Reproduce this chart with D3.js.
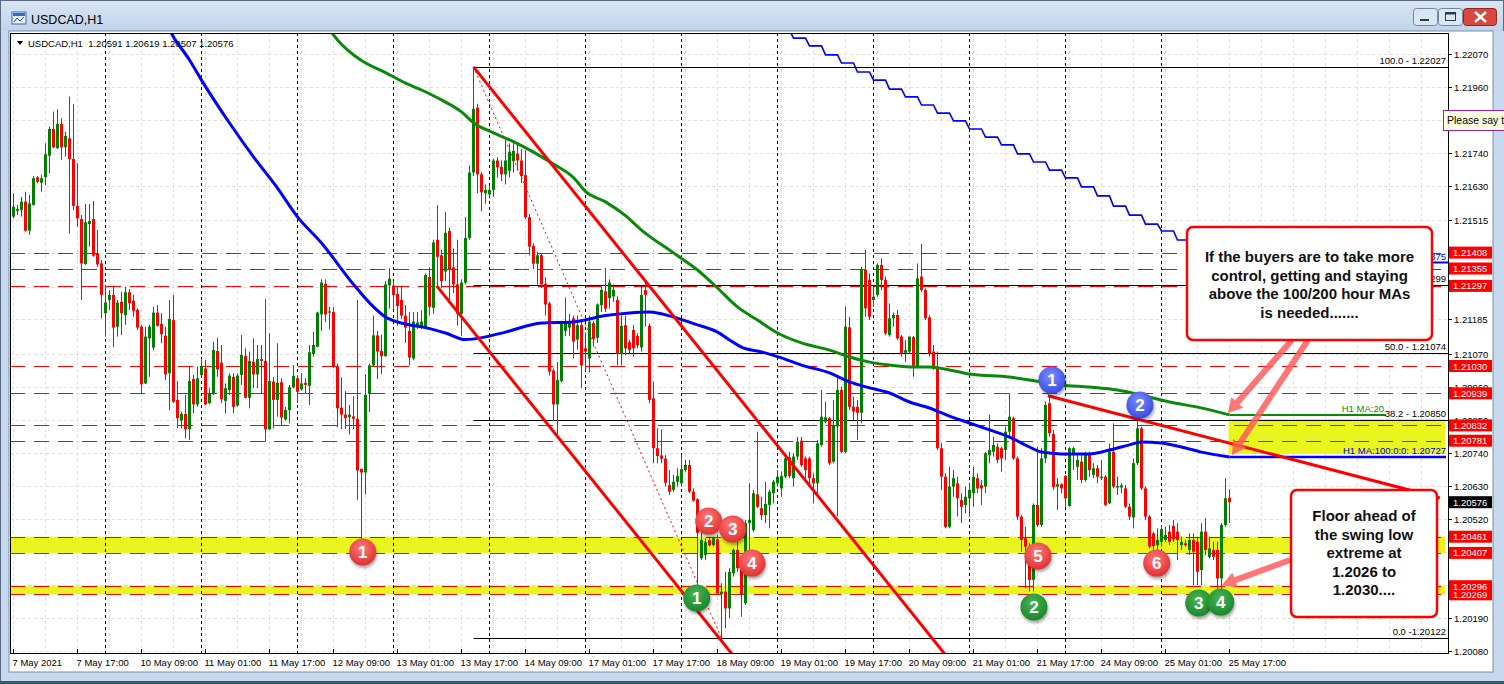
<!DOCTYPE html>
<html><head><meta charset="utf-8">
<script src="https://cdn.jsdelivr.net/npm/d3@7"></script>
<style>body{margin:0;background:#fff;overflow:hidden}svg{display:block}text{font-family:"Liberation Sans",Arial,sans-serif}</style>
</head><body><svg id="c" width="1504" height="684"></svg>
<script>
// ---------------- DATA ----------------
const symbol = "USDCAD,H1";
const O = [1.21550,1.21528,1.21547,1.21550,1.21578,1.21481,1.21567,1.21659,1.21641,1.21659,1.21731,1.21820,1.21756,1.21837,1.21759,1.21789,1.21720,1.21564,1.21520,1.21370,1.21503,1.21520,1.21406,1.21372,1.21206,1.21250,1.21267,1.21161,1.21244,1.21200,1.21276,1.21248,1.21217,1.21161,1.20972,1.21122,1.21091,1.21208,1.21170,1.21131,1.21006,1.21183,1.20917,1.20848,1.20870,1.20819,1.20987,1.20902,1.21000,1.21022,1.20906,1.20937,1.21080,1.21041,1.20914,1.20950,1.20994,1.20898,1.21000,1.21063,1.20924,1.21044,1.21002,1.21053,1.21047,1.20819,1.20978,1.20917,1.20976,1.20852,1.20883,1.20959,1.20989,1.20952,1.20974,1.20964,1.21070,1.21094,1.21202,1.21304,1.21208,1.21210,1.21029,1.20891,1.20868,1.20859,1.20862,1.20854,1.20687,1.20675,1.20937,1.21032,1.21132,1.21080,1.21063,1.21299,1.21298,1.21270,1.21250,1.21198,1.21147,1.21055,1.21164,1.21162,1.21158,1.21327,1.21224,1.21451,1.21399,1.21345,1.21480,1.21359,1.21302,1.21204,1.21308,1.21457,1.21675,1.21891,1.21669,1.21606,1.21602,1.21617,1.21715,1.21694,1.21669,1.21681,1.21713,1.21738,1.21715,1.21666,1.21526,1.21430,1.21371,1.21399,1.21304,1.21239,1.21015,1.20902,1.20980,1.21147,1.21158,1.21189,1.21118,1.21166,1.21089,1.21055,1.21173,1.21124,1.21233,1.21279,1.21256,1.21262,1.21250,1.21070,1.21166,1.21109,1.21150,1.21130,1.21092,1.21283,1.21164,1.20922,1.20756,1.20732,1.20721,1.20633,1.20617,1.20644,1.20639,1.20683,1.20700,1.20611,1.20586,1.20389,1.20400,1.20450,1.20433,1.20452,1.20270,1.20278,1.20222,1.20339,1.20417,1.20356,1.20239,1.20506,1.20483,1.20602,1.20556,1.20533,1.20567,1.20606,1.20639,1.20622,1.20661,1.20726,1.20656,1.20728,1.20781,1.20722,1.20722,1.20656,1.20639,1.20767,1.20844,1.20856,1.20711,1.20828,1.20950,1.20744,1.21159,1.20894,1.20894,1.20874,1.21350,1.21317,1.21250,1.21267,1.21367,1.21317,1.21133,1.21189,1.21200,1.21128,1.21074,1.21078,1.21126,1.21026,1.21328,1.21283,1.21192,1.21078,1.21028,1.20756,1.20661,1.20494,1.20628,1.20639,1.20583,1.20567,1.20589,1.20606,1.20656,1.20633,1.20628,1.20733,1.20744,1.20761,1.20756,1.20750,1.20811,1.20856,1.20722,1.20528,1.20456,1.20428,1.20317,1.20567,1.20500,1.20722,1.20906,1.20803,1.20628,1.20636,1.20663,1.20563,1.20739,1.20694,1.20711,1.20650,1.20736,1.20667,1.20689,1.20656,1.20661,1.20572,1.20744,1.20625,1.20625,1.20622,1.20561,1.20525,1.20706,1.20822,1.20622,1.20528,1.20472,1.20433,1.20444,1.20450,1.20478,1.20497,1.20478,1.20433,1.20439,1.20417,1.20450,1.20444,1.20350,1.20478,1.20394,1.20417,1.20417,1.20322,1.20500,1.20591];
const Hi = [1.21580,1.21606,1.21567,1.21594,1.21611,1.21600,1.21663,1.21663,1.21667,1.21772,1.21828,1.21878,1.21886,1.21856,1.21811,1.21928,1.21902,1.21706,1.21533,1.21570,1.21570,1.21580,1.21483,1.21383,1.21300,1.21283,1.21294,1.21250,1.21278,1.21294,1.21286,1.21267,1.21222,1.21167,1.21161,1.21167,1.21228,1.21233,1.21206,1.21161,1.21250,1.21267,1.20980,1.20878,1.20933,1.21030,1.21000,1.21028,1.21053,1.21050,1.20956,1.21111,1.21124,1.21100,1.20972,1.21006,1.21006,1.21006,1.21133,1.21089,1.21078,1.21122,1.21100,1.21100,1.21253,1.21139,1.20994,1.21106,1.20989,1.20894,1.20967,1.21033,1.21000,1.21006,1.20989,1.21100,1.21144,1.21211,1.21319,1.21319,1.21227,1.21227,1.21038,1.20992,1.20946,1.20900,1.20929,1.21250,1.20688,1.21003,1.21038,1.21198,1.21147,1.21135,1.21313,1.21356,1.21313,1.21293,1.21296,1.21233,1.21210,1.21210,1.21210,1.21216,1.21338,1.21359,1.21451,1.21566,1.21417,1.21543,1.21491,1.21422,1.21451,1.21319,1.21526,1.21698,1.22027,1.21904,1.21675,1.21635,1.21629,1.21721,1.21726,1.21715,1.21784,1.21772,1.21778,1.21772,1.21752,1.21749,1.21537,1.21439,1.21411,1.21405,1.21325,1.21244,1.21021,1.21043,1.21181,1.21258,1.21204,1.21198,1.21198,1.21181,1.21141,1.21198,1.21181,1.21239,1.21296,1.21357,1.21319,1.21302,1.21262,1.21198,1.21198,1.21118,1.21167,1.21139,1.21297,1.21317,1.21172,1.20978,1.20822,1.20819,1.20733,1.20683,1.20667,1.20689,1.20733,1.20717,1.20717,1.20622,1.20589,1.20483,1.20456,1.20461,1.20461,1.20467,1.20306,1.20344,1.20356,1.20422,1.20444,1.20372,1.20517,1.20639,1.20617,1.20811,1.20594,1.20644,1.20617,1.20650,1.20683,1.20678,1.20728,1.20744,1.20739,1.20794,1.20794,1.20728,1.20728,1.20672,1.20783,1.20950,1.20911,1.20861,1.20917,1.20994,1.20961,1.21228,1.21194,1.20928,1.20917,1.21361,1.21417,1.21339,1.21294,1.21372,1.21389,1.21328,1.21239,1.21208,1.21217,1.21133,1.21117,1.21128,1.21130,1.21372,1.21437,1.21289,1.21200,1.21100,1.21078,1.20772,1.20672,1.20694,1.20683,1.20661,1.20606,1.20628,1.20639,1.20694,1.20672,1.20650,1.20744,1.20867,1.20794,1.20772,1.20761,1.20828,1.20939,1.20861,1.20728,1.20533,1.20494,1.20439,1.20572,1.20761,1.20756,1.20911,1.20931,1.20817,1.20656,1.20639,1.20667,1.20761,1.20761,1.20739,1.20739,1.20744,1.20744,1.20706,1.20700,1.20717,1.20667,1.20772,1.20839,1.20661,1.20639,1.20633,1.20572,1.20722,1.20850,1.20828,1.20628,1.20533,1.20478,1.20489,1.20500,1.20494,1.20500,1.20517,1.20506,1.20461,1.20450,1.20472,1.20472,1.20461,1.20506,1.20522,1.20461,1.20444,1.20444,1.20506,1.20656,1.20619];
const Lo = [1.21520,1.21522,1.21533,1.21528,1.21478,1.21467,1.21565,1.21639,1.21611,1.21633,1.21672,1.21756,1.21754,1.21717,1.21728,1.21472,1.21550,1.21494,1.21250,1.21367,1.21428,1.21394,1.21361,1.21189,1.21128,1.21217,1.21092,1.21128,1.21133,1.21167,1.21217,1.21194,1.21150,1.20939,1.20970,1.20994,1.21083,1.21161,1.21106,1.20983,1.20883,1.20906,1.20822,1.20822,1.20789,1.20783,1.20872,1.20894,1.20997,1.20900,1.20903,1.20933,1.20994,1.20906,1.20872,1.20933,1.20872,1.20894,1.20967,1.20922,1.20889,1.20956,1.20956,1.20939,1.20778,1.20817,1.20822,1.20861,1.20830,1.20848,1.20839,1.20956,1.20906,1.20947,1.20939,1.20900,1.21061,1.21094,1.21147,1.21176,1.21153,1.21024,1.20826,1.20820,1.20820,1.20802,1.20820,1.20584,1.20450,1.20602,1.20877,1.21029,1.20986,1.21003,1.21061,1.21221,1.21221,1.21164,1.21187,1.21107,1.21032,1.21049,1.21153,1.21153,1.21153,1.21198,1.21204,1.21290,1.21290,1.21313,1.21244,1.21273,1.21164,1.21130,1.21302,1.21451,1.21663,1.21606,1.21545,1.21571,1.21594,1.21594,1.21658,1.21646,1.21635,1.21658,1.21675,1.21681,1.21640,1.21520,1.21399,1.21353,1.21302,1.21290,1.21198,1.20998,1.20848,1.20802,1.20975,1.21130,1.21130,1.21055,1.21084,1.20957,1.21015,1.21009,1.21095,1.21107,1.21210,1.21210,1.21221,1.21244,1.21032,1.21032,1.21066,1.21072,1.21061,1.21089,1.21078,1.21161,1.20906,1.20706,1.20706,1.20706,1.20628,1.20600,1.20611,1.20628,1.20628,1.20678,1.20606,1.20578,1.20297,1.20383,1.20383,1.20428,1.20428,1.20267,1.20122,1.20156,1.20189,1.20328,1.20344,1.20194,1.20233,1.20411,1.20478,1.20556,1.20517,1.20506,1.20489,1.20572,1.20628,1.20594,1.20656,1.20656,1.20628,1.20717,1.20694,1.20656,1.20628,1.20572,1.20594,1.20761,1.20839,1.20700,1.20706,1.20528,1.20739,1.20739,1.20883,1.20850,1.20783,1.20839,1.21194,1.21183,1.21228,1.21261,1.21283,1.21133,1.21128,1.21161,1.21117,1.21061,1.21044,1.21072,1.20994,1.21022,1.21278,1.21183,1.21061,1.21017,1.20750,1.20617,1.20489,1.20489,1.20594,1.20528,1.20506,1.20539,1.20528,1.20561,1.20606,1.20567,1.20606,1.20706,1.20728,1.20706,1.20678,1.20717,1.20789,1.20717,1.20517,1.20411,1.20289,1.20278,1.20278,1.20494,1.20494,1.20706,1.20794,1.20617,1.20550,1.20606,1.20561,1.20561,1.20683,1.20650,1.20639,1.20644,1.20661,1.20656,1.20639,1.20650,1.20563,1.20570,1.20622,1.20600,1.20606,1.20556,1.20517,1.20489,1.20700,1.20617,1.20517,1.20422,1.20417,1.20417,1.20428,1.20444,1.20433,1.20444,1.20383,1.20417,1.20428,1.20400,1.20300,1.20300,1.20300,1.20400,1.20389,1.20383,1.20283,1.20283,1.20494,1.20507];
const C = [1.21530,1.21561,1.21553,1.21578,1.21481,1.21572,1.21656,1.21644,1.21656,1.21736,1.21820,1.21759,1.21837,1.21759,1.21797,1.21720,1.21564,1.21522,1.21372,1.21509,1.21513,1.21398,1.21369,1.21267,1.21242,1.21267,1.21158,1.21241,1.21206,1.21276,1.21239,1.21214,1.21158,1.20969,1.21128,1.21161,1.21208,1.21164,1.21136,1.21002,1.21187,1.20911,1.20856,1.20870,1.20819,1.20980,1.20902,1.20989,1.21030,1.20902,1.20939,1.21083,1.21019,1.20919,1.20956,1.20998,1.20894,1.20998,1.21067,1.20924,1.21047,1.21002,1.21053,1.21047,1.20819,1.20980,1.20917,1.20974,1.20858,1.20883,1.20959,1.20997,1.20944,1.20972,1.20967,1.21076,1.21100,1.21208,1.21308,1.21202,1.21212,1.21029,1.20889,1.20868,1.20856,1.20868,1.20854,1.20682,1.20675,1.20934,1.21032,1.21132,1.21078,1.21063,1.21302,1.21321,1.21267,1.21230,1.21198,1.21158,1.21058,1.21178,1.21175,1.21178,1.21333,1.21227,1.21442,1.21394,1.21313,1.21474,1.21353,1.21302,1.21204,1.21308,1.21457,1.21675,1.21887,1.21669,1.21609,1.21617,1.21617,1.21715,1.21692,1.21669,1.21715,1.21744,1.21747,1.21715,1.21663,1.21526,1.21428,1.21371,1.21399,1.21302,1.21235,1.21011,1.20902,1.20983,1.21175,1.21175,1.21175,1.21112,1.21166,1.21032,1.21078,1.21178,1.21120,1.21235,1.21284,1.21221,1.21308,1.21284,1.21070,1.21164,1.21089,1.21084,1.21089,1.21100,1.21267,1.21267,1.20917,1.20756,1.20730,1.20721,1.20641,1.20611,1.20644,1.20663,1.20686,1.20700,1.20611,1.20581,1.20474,1.20450,1.20444,1.20433,1.20456,1.20272,1.20278,1.20222,1.20344,1.20417,1.20356,1.20267,1.20506,1.20517,1.20606,1.20561,1.20533,1.20570,1.20611,1.20644,1.20661,1.20663,1.20722,1.20663,1.20728,1.20778,1.20700,1.20683,1.20656,1.20639,1.20772,1.20861,1.20859,1.20706,1.20833,1.20950,1.20744,1.21161,1.20894,1.20878,1.20874,1.21350,1.21222,1.21194,1.21261,1.21367,1.21317,1.21139,1.21189,1.21200,1.21122,1.21072,1.21083,1.21128,1.21028,1.21322,1.21283,1.21189,1.21072,1.21022,1.20756,1.20661,1.20494,1.20628,1.20656,1.20589,1.20561,1.20594,1.20617,1.20661,1.20622,1.20622,1.20739,1.20750,1.20767,1.20717,1.20722,1.20811,1.20861,1.20722,1.20528,1.20450,1.20428,1.20317,1.20567,1.20500,1.20722,1.20900,1.20806,1.20626,1.20636,1.20622,1.20589,1.20756,1.20756,1.20717,1.20650,1.20739,1.20683,1.20689,1.20661,1.20661,1.20567,1.20744,1.20628,1.20630,1.20632,1.20561,1.20528,1.20706,1.20822,1.20622,1.20528,1.20428,1.20430,1.20450,1.20486,1.20467,1.20444,1.20452,1.20450,1.20444,1.20433,1.20450,1.20411,1.20344,1.20478,1.20417,1.20422,1.20394,1.20322,1.20500,1.20589,1.20576];

const ma100Idx = [38,41,45,48,55,61,67,72,78,86,91,94,99,104,109,114,119,124,133,141,149,155,160,166,172,177,180,183,188,193,198,205,210,215,220,225,230,235,240,245,250,255,258,263,270,275,280,283,288,293,298,305];
const ma100Val = [1.22200,1.22127,1.22050,1.21983,1.21840,1.21727,1.21623,1.21527,1.21440,1.21302,1.21227,1.21193,1.21170,1.21158,1.21140,1.21118,1.21127,1.21143,1.21173,1.21177,1.21198,1.21207,1.21210,1.21193,1.21167,1.21143,1.21117,1.21093,1.21077,1.21057,1.21033,1.21007,1.20977,1.20957,1.20940,1.20910,1.20890,1.20863,1.20840,1.20817,1.20793,1.20760,1.20743,1.20737,1.20737,1.20750,1.20767,1.20777,1.20773,1.20760,1.20743,1.20727];
const ma200Idx = [78,82,88,94,99,103,108,113,116,121,126,131,136,141,144,149,154,158,166,172,177,182,187,192,198,205,210,215,220,225,230,235,240,250,258,263,270,277,283,290,297,305];
const ma200Val = [1.22190,1.22117,1.22048,1.22008,1.21973,1.21950,1.21917,1.21877,1.21841,1.21807,1.21778,1.21743,1.21703,1.21658,1.21612,1.21577,1.21531,1.21483,1.21407,1.21350,1.21290,1.21227,1.21183,1.21140,1.21107,1.21083,1.21060,1.21043,1.21033,1.21027,1.21027,1.21017,1.21003,1.20993,1.20977,1.20967,1.20960,1.20950,1.20933,1.20910,1.20893,1.20867];
const h4Idx = [192,196,200,204,208,212,216,220,224,228,232,236,240,244,248,252,256,260,264,268,272,276,280,284,288,292,296,300,304];
const h4Val = [1.22150,1.22123,1.22097,1.22067,1.22040,1.22010,1.21983,1.21953,1.21927,1.21900,1.21873,1.21847,1.21820,1.21793,1.21767,1.21737,1.21710,1.21683,1.21657,1.21627,1.21597,1.21563,1.21533,1.21503,1.21480,1.21450,1.21423,1.21400,1.21375];

const priceTicks = [1.22070,1.21960,1.21850,1.21740,1.21630,1.21515,1.21405,1.21295,1.21185,1.21070,1.20960,1.20850,1.20740,1.20630,1.20520,1.20410,1.20300,1.20190,1.20080];
const xTickIdx = [1,17,33,49,65,81,97,113,129,145,161,177,193,209,225,241,257,273,289,305];
const xTickLabels = ["7 May 2021","7 May 17:00","10 May 09:00","11 May 01:00","11 May 17:00","12 May 09:00","13 May 01:00","13 May 17:00","14 May 09:00","17 May 01:00","17 May 17:00","18 May 09:00","19 May 01:00","19 May 17:00","20 May 09:00","21 May 01:00","21 May 17:00","24 May 09:00","25 May 01:00","25 May 17:00"];
const dayStartIdx = [24,48,72,96,120,144,168,192,216,240,264,288];

const redLevels = [1.21408,1.21355,1.21297,1.21030,1.20939,1.20832,1.20781,1.20461,1.20407,1.20269,1.20296];
const bandLo = [1.20407,1.20269];
const bandHi = [1.20461,1.20296];
const maZone = [1.20737,1.20853];
const fibVals = [1.22027,1.21299,1.21074,1.20850,1.20122];
const fibLabels = ["100.0 - 1.22027","61.8 - 1.21299","50.0 - 1.21074","38.2 - 1.20850","0.0 -1.20122"];
const fibStartIdx = 116;
const trendA = [[116,1.22027],[234,1.20067]];
const trendB = [[106.8,1.21297],[180.8,1.20067]];
const trendC = [[259.6,1.20931],[357.6,1.20590]];
const fibDiag = [[116,1.22027],[178,1.20122]];

const circleNum = ["1","2","3","4","5","6","1","2","3","4","1","2"];
const circleKind = ["r","r","r","r","r","r","g","g","g","g","b","b"];
const circleIdx = [88.3,174.8,180.8,185.6,257.1,286.8,171.8,256.1,297.3,302.8,260.6,282.6];
const circlePrice = [1.20410,1.20513,1.20487,1.20373,1.20397,1.20373,1.20257,1.20227,1.20240,1.20243,1.20983,1.20900];

const note1 = ["If the buyers are to take more","control, getting and staying","above the 100/200 hour MAs","is needed......."];
const note2 = ["Floor ahead of","the swing low","extreme at","1.2026 to","1.2030...."];

// ---------------- DRAW ----------------
const svg = d3.select("#c");
const W = 1504, H = 684;
const P = {l:10, t:33, r:1448, b:653};
const x = d3.scaleLinear().domain([0,305]).range([9.5,1229.5]);
const y = d3.scaleLinear().domain([1.20080,1.22070]).range([651,54]);
const N = C.length;

const defs = svg.append("defs");
const tb = defs.append("linearGradient").attr("id","tb").attr("x1",0).attr("x2",0).attr("y1",0).attr("y2",1);
tb.append("stop").attr("offset","0").attr("stop-color","#dae6f4");
tb.append("stop").attr("offset","1").attr("stop-color","#bfd3ea");
defs.append("clipPath").attr("id","clip").append("rect").attr("x",P.l).attr("y",P.t).attr("width",P.r-P.l).attr("height",P.b-P.t);
const grads = {r:["#ff7a7a","#e02a2a"], g:["#46b552","#16832a"], b:["#7c8cff","#3346e0"]};
Object.keys(grads).forEach(k=>{
  const g = defs.append("radialGradient").attr("id","cg"+k).attr("cx","45%").attr("cy","35%").attr("r","70%");
  g.append("stop").attr("offset","0").attr("stop-color",grads[k][0]);
  g.append("stop").attr("offset","1").attr("stop-color",grads[k][1]);
});
const sh = defs.append("filter").attr("id","sh").attr("x","-50%").attr("y","-50%").attr("width","200%").attr("height","200%");
sh.append("feGaussianBlur").attr("stdDeviation",1.8);

// window frame
svg.append("rect").attr("width",W).attr("height",H).attr("fill","#c6d9ee");
svg.append("rect").attr("width",W).attr("height",31).attr("fill","url(#tb)");
svg.append("rect").attr("x",0.5).attr("y",0.5).attr("width",W-1).attr("height",H-1).attr("fill","none").attr("stroke","#5b6b80");
svg.append("rect").attr("x",0).attr("y",H-3).attr("width",W).attr("height",3).attr("fill","#2f5f6a");
const ic = svg.append("g").attr("transform","translate(12,12)");
ic.append("rect").attr("width",14).attr("height",12).attr("fill","#e8eef8").attr("stroke","#3b6db5");
ic.append("rect").attr("x",1).attr("y",1).attr("width",12).attr("height",3).attr("fill","#3b6db5");
ic.append("path").attr("d","M2,10 L5,6 L8,9 L12,5").attr("fill","none").attr("stroke","#2a4f90");
svg.append("text").attr("x",31).attr("y",24).attr("font-size",12.5).attr("fill","#000").text(symbol);
const bx = [[1413,24,"min"],[1438,24,"max"],[1463,33,"close"]];
bx.forEach(([bxx,bw,k])=>{
  svg.append("rect").attr("x",bxx+0.5).attr("y",8.5).attr("width",bw).attr("height",17).attr("rx",3)
    .attr("fill",k==="close"?"#d9473d":"#dbe6f3").attr("stroke",k==="close"?"#8a2a22":"#6f86a6");
});
svg.append("rect").attr("x",1420).attr("y",19).attr("width",9).attr("height",2).attr("fill","#2a3b55");
svg.append("rect").attr("x",1445.5).attr("y",12.5).attr("width",10).attr("height",8).attr("fill","none").attr("stroke","#2a3b55").attr("stroke-width",1);
svg.append("rect").attr("x",1445.5).attr("y",12.5).attr("width",10).attr("height",2).attr("fill","#2a3b55");
svg.append("path").attr("d","M1475,12 L1486,22 M1486,12 L1475,22").attr("stroke","#fff").attr("stroke-width",2.5);

// chart canvas
svg.append("rect").attr("x",9).attr("y",31).attr("width",1484).attr("height",641).attr("fill","#fff").attr("stroke","#7d8ea6");

const plot = svg.append("g").attr("clip-path","url(#clip)");
plot.selectAll(".hg").data(priceTicks).join("line")
  .attr("x1",P.l).attr("x2",P.r).attr("y1",d=>Math.round(y(d))+0.5).attr("y2",d=>Math.round(y(d))+0.5)
  .attr("stroke","#e6ded4").attr("stroke-dasharray","3,3");
const vgrid = d3.range(1,400,8);
plot.selectAll(".vg").data(vgrid).join("line")
  .attr("x1",d=>x(d)).attr("x2",d=>x(d)).attr("y1",P.t).attr("y2",P.b)
  .attr("stroke","#e6ded4").attr("stroke-dasharray","3,3");
bandLo.forEach((lo,k)=>{
  plot.append("rect").attr("x",P.l).attr("width",P.r-P.l-3).attr("y",y(bandHi[k])).attr("height",y(lo)-y(bandHi[k])).attr("fill","#e9f51d");
});
plot.append("rect").attr("x",x(N-1)-1).attr("width",P.r-3-x(N-1)+1).attr("y",y(maZone[1])).attr("height",y(maZone[0])-y(maZone[1])).attr("fill","#e9f51d");
plot.selectAll(".ds").data(dayStartIdx).join("line")
  .attr("x1",d=>x(d)).attr("x2",d=>x(d)).attr("y1",P.t).attr("y2",P.b)
  .attr("stroke","#000").attr("stroke-dasharray","3,3");
fibVals.forEach((v,k)=>{
  const yy = Math.round(y(v))+0.5;
  plot.append("line").attr("x1",x(fibStartIdx)).attr("x2",P.r).attr("y1",yy).attr("y2",yy).attr("stroke","#000").attr("stroke-width",1);
});
plot.selectAll(".rl").data(redLevels).join("line")
  .attr("x1",P.l).attr("x2",P.r).attr("y1",d=>Math.round(y(d))+0.5).attr("y2",d=>Math.round(y(d))+0.5)
  .attr("stroke","#ff0000").attr("stroke-dasharray","15,9");
const h4pts = [];
h4Idx.forEach((b,k)=>{ h4pts.push([b,h4Val[k]]); h4pts.push([Math.min(b+3,N-1),h4Val[k]]); });
const ln = d3.line().x(d=>x(d[0])).y(d=>y(d[1]));
plot.append("path").attr("d",ln(h4pts)).attr("fill","none").attr("stroke","#0000ff").attr("stroke-width",1.6);
plot.append("line").attr("x1",x(N-1)).attr("x2",P.r).attr("y1",y(h4Val[h4Val.length-1])).attr("y2",y(h4Val[h4Val.length-1])).attr("stroke","#0000ff").attr("stroke-width",2);

const cg = plot.append("g");
for (let i=0;i<N;i++){
  const up = C[i] >= O[i];
  const col = up ? "#008000" : "#ff0000";
  const xx = Math.round(x(i)-0.5)+0.5;
  cg.append("line").attr("x1",xx).attr("x2",xx).attr("y1",y(Hi[i])).attr("y2",y(Lo[i])).attr("stroke",col);
  const top = y(Math.max(O[i],C[i])), bot = y(Math.min(O[i],C[i]));
  cg.append("rect").attr("x",xx-1.5).attr("width",3).attr("y",top).attr("height",Math.max(1,bot-top)).attr("fill",col);
}
const curve = d3.line().x(d=>x(d[0])).y(d=>y(d[1])).curve(d3.curveMonotoneX);
plot.append("path").attr("d",curve(ma200Idx.map((d,k)=>[d,ma200Val[k]]))).attr("fill","none").attr("stroke","#0a8a0a").attr("stroke-width",3);
plot.append("path").attr("d",curve(ma100Idx.map((d,k)=>[d,ma100Val[k]]))).attr("fill","none").attr("stroke","#0000ff").attr("stroke-width",3);
plot.append("line").attr("x1",x(N-1)).attr("x2",1386).attr("y1",y(ma200Val[ma200Val.length-1])).attr("y2",y(ma200Val[ma200Val.length-1])).attr("stroke","#0a8a0a").attr("stroke-width",2);
plot.append("line").attr("x1",x(N-1)).attr("x2",P.r-2).attr("y1",y(ma100Val[ma100Val.length-1])).attr("y2",y(ma100Val[ma100Val.length-1])).attr("stroke","#0000ff").attr("stroke-width",2.5);
[trendA,trendB,trendC].forEach(t=>{
  plot.append("path").attr("d",ln(t)).attr("stroke","#ff0000").attr("stroke-width",3).attr("fill","none");
});
plot.append("path").attr("d",ln(fibDiag)).attr("stroke","#ff0000").attr("stroke-width",1).attr("stroke-dasharray","2,3").attr("fill","none");

fibVals.forEach((v,k)=>{
  const t = k===1 ? fibLabels[k].slice(-3) : fibLabels[k];
  svg.append("text").attr("x",1446).attr("y",y(v)-3).attr("text-anchor","end").attr("font-size",9.5).attr("fill","#000").text(t);
});
svg.append("text").attr("x",1384).attr("y",y(ma200Val[ma200Val.length-1])-3).attr("text-anchor","end").attr("font-size",9.5).attr("fill","#0a8a0a").text("H1 MA:20");
svg.append("text").attr("x",1446).attr("y",y(ma100Val[ma100Val.length-1])-3).attr("text-anchor","end").attr("font-size",9.5).attr("fill","#0000c8").text("H1 MA:100:0:0: "+ma100Val[ma100Val.length-1].toFixed(5));
svg.append("text").attr("x",1446).attr("y",y(h4Val[h4Val.length-1])-3).attr("text-anchor","end").attr("font-size",9.5).attr("fill","#0000ff").text(h4Val[h4Val.length-1].toFixed(5).slice(-3));

const cc = svg.append("g");
circleNum.forEach((n,k)=>{
  const cx = x(circleIdx[k]), cy = y(circlePrice[k]);
  cc.append("circle").attr("cx",cx+1).attr("cy",cy+2.5).attr("r",13.5).attr("fill","rgba(0,0,0,0.35)").attr("filter","url(#sh)");
  cc.append("circle").attr("cx",cx).attr("cy",cy).attr("r",13.5).attr("fill","url(#cg"+circleKind[k]+")");
  cc.append("text").attr("x",cx).attr("y",cy+6).attr("text-anchor","middle").attr("font-size",17).attr("font-weight","bold").attr("fill","#fff").text(n);
});

function arrow(x1,y1,x2,y2){
  const a = Math.atan2(y2-y1,x2-x1), len = Math.hypot(x2-x1,y2-y1);
  const g = svg.append("g").attr("transform",`translate(${x1},${y1}) rotate(${a*180/Math.PI})`);
  g.append("path").attr("d",`M0,-3 L${len-14},-3 L${len-14},-8 L${len},0 L${len-14},8 L${len-14},3 L0,3 Z`)
    .attr("fill","#ff5c5c").attr("fill-opacity",0.85);
}
arrow(1292,340,1228,413);
arrow(1308,340,1232,455);
arrow(1290,560,1222,585);

function note(bx,by,bw,bh,lines,y0){
  svg.append("rect").attr("x",bx).attr("y",by).attr("width",bw).attr("height",bh).attr("rx",6).attr("fill","#fff").attr("stroke","#ff0000").attr("stroke-width",2.5);
  lines.forEach((t,k)=>svg.append("text").attr("x",bx+bw/2).attr("y",y0+k*18.5).attr("text-anchor","middle").attr("font-size",15).attr("font-weight","bold").attr("fill","#111").text(t));
}
note(1187,227,245,113,note1,262);
note(1291,490,146,127,note2,521);

// axes
svg.append("line").attr("x1",P.l+0.5).attr("x2",P.l+0.5).attr("y1",P.t).attr("y2",P.b).attr("stroke","#000");
svg.append("line").attr("x1",P.l).attr("x2",P.r).attr("y1",P.t+0.5).attr("y2",P.t+0.5).attr("stroke","#000");
svg.append("line").attr("x1",P.r+0.5).attr("x2",P.r+0.5).attr("y1",P.t).attr("y2",P.b+1).attr("stroke","#000");
svg.append("line").attr("x1",P.l).attr("x2",P.r+1).attr("y1",P.b+0.5).attr("y2",P.b+0.5).attr("stroke","#000");
// a tick label fully covered by a price tag or the tooltip is not drawn (it is not visible in the reference)
const covered = p => redLevels.some(v=>Math.abs(y(v)-y(p))<5) || Math.abs(y(p)-120)<8;
priceTicks.forEach(p=>{
  const yy = Math.round(y(p))+0.5;
  svg.append("line").attr("x1",P.r).attr("x2",P.r+4).attr("y1",yy).attr("y2",yy).attr("stroke","#000");
  if (!covered(p)) svg.append("text").attr("x",1454).attr("y",yy+3.5).attr("font-size",9.5).attr("fill","#000").text(p.toFixed(5));
});
xTickIdx.forEach((i,k)=>{
  svg.append("line").attr("x1",x(i)).attr("x2",x(i)).attr("y1",P.b).attr("y2",P.b-4).attr("stroke","#000");
  svg.append("text").attr("x",x(i)-1).attr("y",666).attr("font-size",9.5).attr("fill","#000").text(xTickLabels[k]);
});
function plabel(v,bg){
  const yy = y(v);
  svg.append("rect").attr("x",1449).attr("y",yy-6).attr("width",43).attr("height",12).attr("fill",bg);
  svg.append("text").attr("x",1453).attr("y",yy+3.5).attr("font-size",9.5).attr("fill","#fff").text(v.toFixed(5));
}
redLevels.forEach(v=>plabel(v,"#ff0000"));
plabel(C[N-1],"#000");

svg.append("path").attr("d","M17,41 L23,41 L20,45 Z").attr("fill","#000");
svg.append("text").attr("x",28).attr("y",47).attr("font-size",9.5).attr("fill","#000").attr("xml:space","preserve")
  .text(`${symbol}  ${O[N-1].toFixed(5)} ${Hi[N-1].toFixed(5)} ${Lo[N-1].toFixed(5)} ${C[N-1].toFixed(5)}`);

svg.append("rect").attr("x",1494).attr("y",31).attr("width",10).attr("height",650).attr("fill","#c6d9ee");
svg.append("rect").attr("x",1443.5).attr("y",110.5).attr("width",70).attr("height",20).attr("fill","#ffffe1").attr("stroke","#a21caf");
svg.append("text").attr("x",1447).attr("y",124).attr("font-size",10.5).attr("fill","#000").text("Please say t");
</script></body></html>
